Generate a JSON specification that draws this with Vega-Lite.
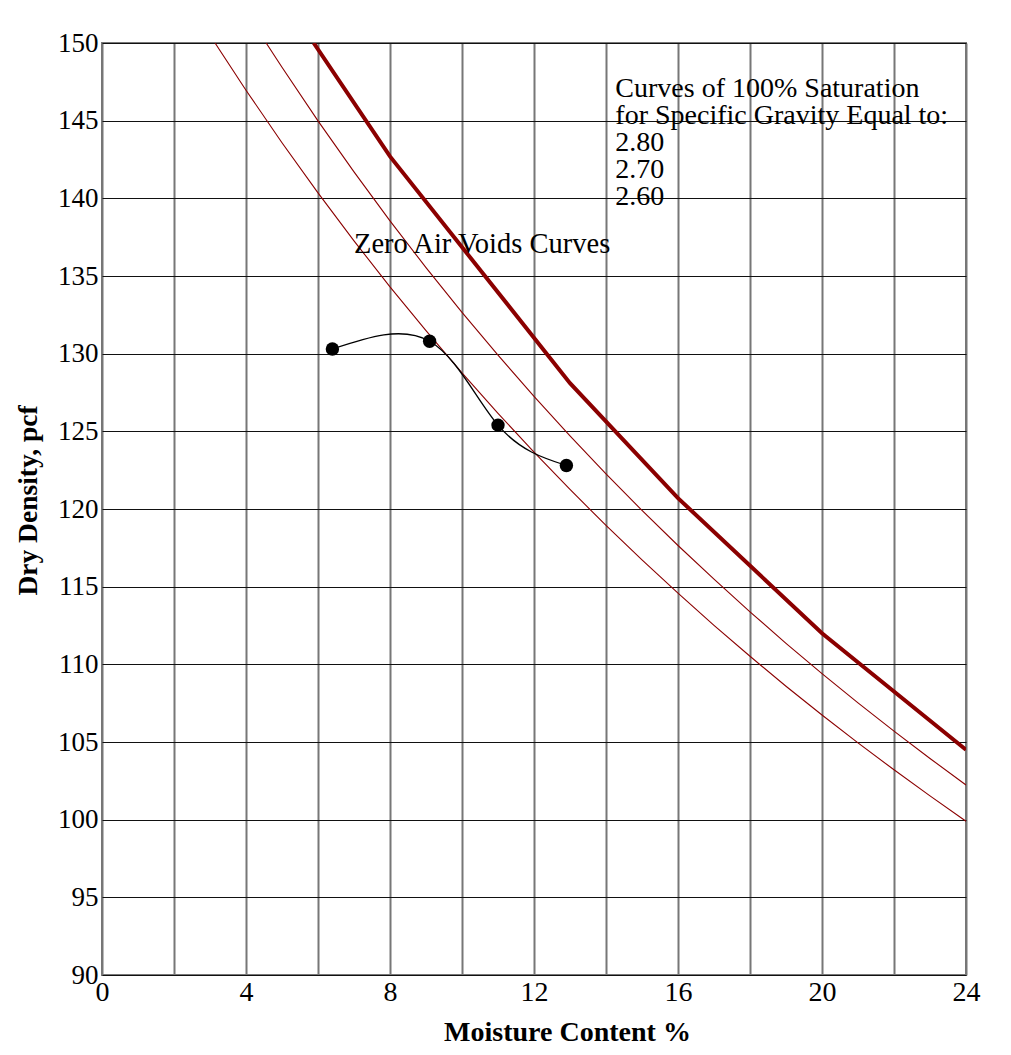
{
  "$schema": "https://vega.github.io/schema/vega-lite/v6.json",
  "width": 864,
  "height": 932,
  "autosize": "none",
  "padding": {"left": 102, "top": 43, "right": 45, "bottom": 80},
  "background": "white",
  "config": {
    "view": {"stroke": "#777777", "strokeWidth": 2},
    "font": "Liberation Serif",
    "axis": {"labelFont": "Liberation Serif", "titleFont": "Liberation Serif", "labelColor": "black", "titleColor": "black"}
  },
  "datasets": {
    "zav": [
      {"w": 5.88, "density": 150.0, "gs": "2.80"},
      {"w": 8, "density": 142.7, "gs": "2.80"},
      {"w": 13, "density": 128.1, "gs": "2.80"},
      {"w": 16, "density": 120.7, "gs": "2.80"},
      {"w": 20, "density": 112.0, "gs": "2.80"},
      {"w": 24, "density": 104.5, "gs": "2.80"},
      {"w": 4.56, "density": 150.0, "gs": "2.70"},
      {"w": 5, "density": 148.44, "gs": "2.70"},
      {"w": 6, "density": 144.99, "gs": "2.70"},
      {"w": 7, "density": 141.70, "gs": "2.70"},
      {"w": 8, "density": 138.55, "gs": "2.70"},
      {"w": 9, "density": 135.54, "gs": "2.70"},
      {"w": 10, "density": 132.66, "gs": "2.70"},
      {"w": 11, "density": 129.90, "gs": "2.70"},
      {"w": 12, "density": 127.25, "gs": "2.70"},
      {"w": 13, "density": 124.71, "gs": "2.70"},
      {"w": 14, "density": 122.26, "gs": "2.70"},
      {"w": 15, "density": 119.91, "gs": "2.70"},
      {"w": 16, "density": 117.65, "gs": "2.70"},
      {"w": 17, "density": 115.48, "gs": "2.70"},
      {"w": 18, "density": 113.38, "gs": "2.70"},
      {"w": 19, "density": 111.35, "gs": "2.70"},
      {"w": 20, "density": 109.40, "gs": "2.70"},
      {"w": 21, "density": 107.52, "gs": "2.70"},
      {"w": 22, "density": 105.70, "gs": "2.70"},
      {"w": 23, "density": 103.94, "gs": "2.70"},
      {"w": 24, "density": 102.23, "gs": "2.70"},
      {"w": 3.14, "density": 150.0, "gs": "2.60"},
      {"w": 4, "density": 146.96, "gs": "2.60"},
      {"w": 5, "density": 143.58, "gs": "2.60"},
      {"w": 6, "density": 140.35, "gs": "2.60"},
      {"w": 7, "density": 137.26, "gs": "2.60"},
      {"w": 8, "density": 134.30, "gs": "2.60"},
      {"w": 9, "density": 131.48, "gs": "2.60"},
      {"w": 10, "density": 128.76, "gs": "2.60"},
      {"w": 11, "density": 126.16, "gs": "2.60"},
      {"w": 12, "density": 123.66, "gs": "2.60"},
      {"w": 13, "density": 121.26, "gs": "2.60"},
      {"w": 14, "density": 118.94, "gs": "2.60"},
      {"w": 15, "density": 116.72, "gs": "2.60"},
      {"w": 16, "density": 114.58, "gs": "2.60"},
      {"w": 17, "density": 112.51, "gs": "2.60"},
      {"w": 18, "density": 110.52, "gs": "2.60"},
      {"w": 19, "density": 108.59, "gs": "2.60"},
      {"w": 20, "density": 106.74, "gs": "2.60"},
      {"w": 21, "density": 104.94, "gs": "2.60"},
      {"w": 22, "density": 103.21, "gs": "2.60"},
      {"w": 23, "density": 101.53, "gs": "2.60"},
      {"w": 24, "density": 99.90, "gs": "2.60"}
    ],
    "tests": [
      {"w": 6.4, "density": 130.3},
      {"w": 9.1, "density": 130.8},
      {"w": 11.0, "density": 125.4},
      {"w": 12.9, "density": 122.8}
    ]
  },
  "layer": [
    {
      "data": {"name": "zav"},
      "transform": [{"filter": "datum.gs != '2.80'"}],
      "mark": {"type": "line", "color": "#8B0000", "strokeWidth": 1.1, "clip": true},
      "encoding": {
        "x": {
          "field": "w", "type": "quantitative",
          "scale": {"domain": [0, 24], "nice": false, "zero": false},
          "axis": {
            "values": [0, 2, 4, 6, 8, 10, 12, 14, 16, 18, 20, 22, 24],
            "labelExpr": "datum.value % 4 == 0 ? datum.label : ''",
            "grid": true, "gridColor": "#777777", "gridWidth": 2, "gridOpacity": 1,
            "domain": false, "ticks": false,
            "labelFontSize": 28, "labelPadding": 3, "labelFlush": false,
            "title": "Moisture Content %", "titleFontSize": 28, "titleFontWeight": "bold",
            "titleX": 465, "titleY": 65, "titleAlign": "center", "titleBaseline": "alphabetic"
          }
        },
        "y": {
          "field": "density", "type": "quantitative",
          "scale": {"domain": [90, 150], "nice": false, "zero": false},
          "axis": {
            "values": [90, 95, 100, 105, 110, 115, 120, 125, 130, 135, 140, 145, 150],
            "grid": true, "gridColor": "#111111", "gridWidth": 1.2, "gridOpacity": 1,
            "domain": false, "ticks": false,
            "labelFontSize": 27, "labelPadding": 4, "labelFlush": false,
            "title": "Dry Density, pcf", "titleFontSize": 27.5, "titleFontWeight": "bold",
            "titleAngle": -90, "titleX": -66, "titleY": 457, "titleAlign": "center", "titleBaseline": "alphabetic"
          }
        },
        "detail": {"field": "gs", "type": "nominal"}
      }
    },
    {
      "data": {"name": "zav"},
      "transform": [{"filter": "datum.gs == '2.80'"}],
      "mark": {"type": "line", "color": "#8B0000", "strokeWidth": 4, "clip": true},
      "encoding": {
        "x": {"field": "w", "type": "quantitative"},
        "y": {"field": "density", "type": "quantitative"}
      }
    },
    {
      "data": {"name": "tests"},
      "mark": {"type": "line", "interpolate": "natural", "color": "black", "strokeWidth": 1.3},
      "encoding": {
        "x": {"field": "w", "type": "quantitative"},
        "y": {"field": "density", "type": "quantitative"}
      }
    },
    {
      "data": {"name": "tests"},
      "mark": {"type": "circle", "color": "black", "opacity": 1, "size": 180},
      "encoding": {
        "x": {"field": "w", "type": "quantitative"},
        "y": {"field": "density", "type": "quantitative"}
      }
    },
    {
      "data": {"values": [{}]},
      "mark": {"type": "text", "text": "Zero Air Voids Curves", "align": "left", "baseline": "alphabetic", "fontSize": 28.5, "font": "Liberation Serif", "color": "black"},
      "encoding": {
        "x": {"datum": 7.0, "type": "quantitative"},
        "y": {"datum": 136.5, "type": "quantitative"}
      }
    },
    {
      "data": {"values": [{}]},
      "mark": {"type": "text", "text": ["Curves of 100% Saturation", "for Specific Gravity Equal to:", "2.80", "2.70", "2.60"], "lineHeight": 27, "align": "left", "baseline": "alphabetic", "fontSize": 28, "font": "Liberation Serif", "color": "black"},
      "encoding": {
        "x": {"datum": 14.26, "type": "quantitative"},
        "y": {"datum": 146.5, "type": "quantitative"}
      }
    }
  ]
}
